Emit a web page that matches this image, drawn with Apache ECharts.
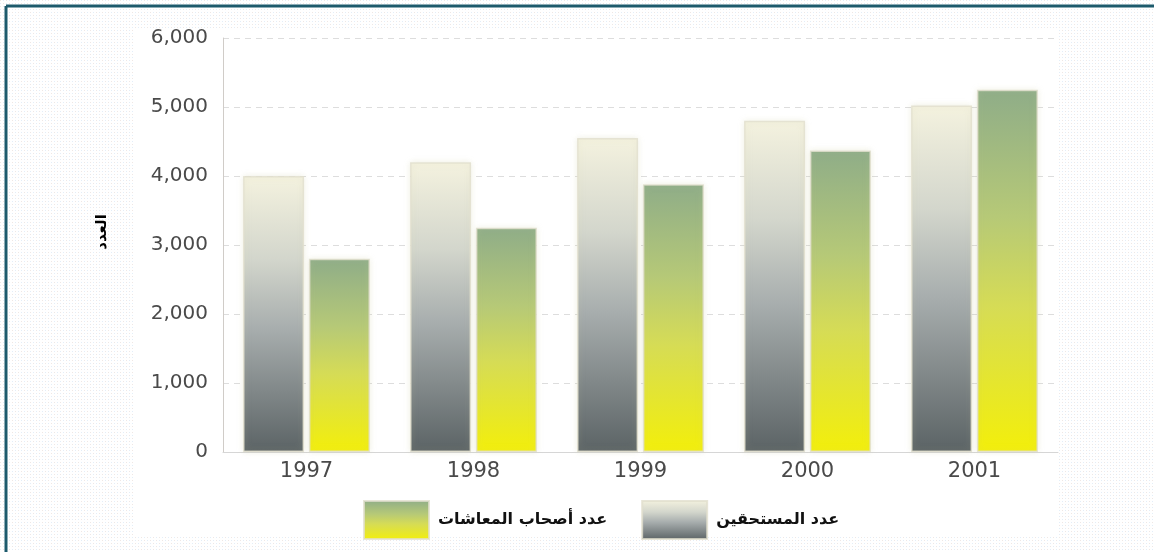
<!DOCTYPE html>
<html>
<head>
<meta charset="utf-8">
<script src="https://cdn.jsdelivr.net/npm/echarts@6/dist/echarts.min.js"></script>
<style>
  html, body { margin: 0; padding: 0; }
  #chart { width: 1154px; height: 552px; }
</style>
</head>
<body>
<div id="chart"></div>
<script>
// السنوات
const years = ['1997', '1998', '1999', '2000', '2001']
// عدد المستحقين (رمادي)
const beneficiaries = [4000, 4200, 4550, 4800, 5020]
// عدد أصحاب المعاشات (أخضر/أصفر)
const pensioners = [2800, 3250, 3880, 4370, 5250]
const yTicks = [0, 1000, 2000, 3000, 4000, 5000, 6000]

const nameBeneficiaries = 'عدد المستحقين'
const namePensioners = 'عدد أصحاب المعاشات'

// dotted paper background
const tile = document.createElement('canvas')
tile.width = 6
tile.height = 6
const tctx = tile.getContext('2d')
tctx.fillStyle = '#ffffff'
tctx.fillRect(0, 0, 6, 6)
tctx.fillStyle = '#efe7e4'
tctx.fillRect(0, 0, 1, 1)
tctx.fillRect(3, 3, 1, 1)
tctx.fillStyle = '#e2eef9'
tctx.fillRect(3, 0, 1, 1)
tctx.fillRect(0, 3, 1, 1)

const grayGrad = new echarts.graphic.LinearGradient(0, 0, 0, 1, [
  { offset: 0, color: '#f4f2df' },
  { offset: 0.3, color: '#d3d6cc' },
  { offset: 0.55, color: '#a8aeae' },
  { offset: 1, color: '#5b6365' }
])
const greenGrad = new echarts.graphic.LinearGradient(0, 0, 0, 1, [
  { offset: 0, color: '#8fad88' },
  { offset: 0.35, color: '#b6c977' },
  { offset: 0.6, color: '#d6dc55' },
  { offset: 1, color: '#f3ef0a' }
])

const myChart = echarts.init(document.getElementById('chart'))
myChart.setOption({
  animation: false,
  backgroundColor: { image: tile, repeat: 'repeat' },
  graphic: [
    { type: 'rect', z: -10, shape: { x: 135, y: 28, width: 923, height: 509 }, style: { fill: '#ffffff' } },
    { type: 'line', shape: { x1: 6, y1: 6, x2: 1154, y2: 6 }, style: { stroke: '#1d5a6c', lineWidth: 3 } },
    { type: 'line', shape: { x1: 6, y1: 6, x2: 6, y2: 552 }, style: { stroke: '#1d5a6c', lineWidth: 3 } }
  ],
  grid: { left: 223, right: 96, top: 38, bottom: 100 },
  legend: {
    left: 358,
    top: 495,
    icon: 'rect',
    itemWidth: 65,
    itemHeight: 38,
    itemGap: 34,
    data: [namePensioners, nameBeneficiaries],
    textStyle: { fontFamily: 'DejaVu Sans', fontWeight: 'bold', fontSize: 16, color: '#111', padding: [0, 0, 0, 4] }
  },
  xAxis: {
    type: 'category',
    data: years,
    axisTick: { show: false },
    axisLine: { lineStyle: { color: '#d6d6d6' } },
    axisLabel: { margin: 9, fontFamily: 'DejaVu Sans', fontSize: 21, color: '#4a4a4a' }
  },
  yAxis: {
    type: 'value',
    min: yTicks[0],
    max: yTicks[yTicks.length - 1],
    interval: 1000,
    name: 'العدد',
    nameLocation: 'middle',
    nameGap: 113,
    nameTextStyle: { fontFamily: 'DejaVu Sans', fontWeight: 'bold', fontSize: 15, color: '#000', padding: [0, 0, 0, 26] },
    axisLine: { show: true, lineStyle: { color: '#d0ccc8' } },
    axisTick: { show: false },
    splitLine: { lineStyle: { color: '#dddddd', type: [6, 5] } },
    axisLabel: {
      margin: 15,
      fontFamily: 'DejaVu Sans',
      fontSize: 20,
      color: '#4a4a4a',
      formatter (value) {
        return value.toLocaleString('en-US')
      }
    }
  },
  series: [
    {
      name: nameBeneficiaries,
      type: 'bar',
      data: beneficiaries,
      barWidth: 61,
      barGap: '8%',
      itemStyle: {
        color: grayGrad,
        borderColor: 'rgba(225,222,205,0.8)',
        borderWidth: 1.5,
        shadowBlur: 6,
        shadowColor: 'rgba(210,210,170,0.35)'
      }
    },
    {
      name: namePensioners,
      type: 'bar',
      data: pensioners,
      barWidth: 61,
      itemStyle: {
        color: greenGrad,
        borderColor: 'rgba(225,222,205,0.8)',
        borderWidth: 1.5,
        shadowBlur: 6,
        shadowColor: 'rgba(210,210,170,0.35)'
      }
    }
  ]
})
</script>
</body>
</html>
